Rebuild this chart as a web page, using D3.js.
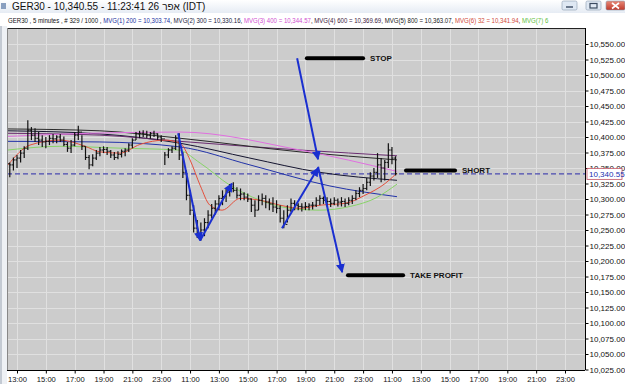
<!DOCTYPE html>
<html lang="en">
<head>
<meta charset="UTF-8">
<title>GER30 5 minutes</title>
<script src="https://cdn.jsdelivr.net/npm/d3@7"></script>
<style>
  body { margin: 0; background: #fff; }
  svg { display: block; }
</style>
</head>
<body>
<script>
// time axis labels, one every 8 slots (15 min slots)
const timeLabels = ["13:00","15:00","17:00","19:00","21:00","23:00","11:00","13:00","15:00","17:00",
                    "19:00","21:00","23:00","11:00","13:00","15:00","17:00","19:00","21:00","23:00"];
const priceTicks = [10025,10050,10075,10100,10125,10150,10175,10200,10225,10250,10275,10300,
                    10325,10350,10375,10400,10425,10450,10475,10500,10525,10550];

// bars, first bar at slot -2
const firstSlot = -2;
const firstOpen = 10357;
const barHigh = [10359,10367,10371,10379,10385,10427,10416,10414,10408,10403,10400,10403,10405,10403,10405,10401,
  10392,10395,10408,10418,10403,10385,10371,10372,10379,10384,10385,10384,10379,10376,10377,10380,10382,10390,
  10398,10408,10410,10411,10410,10408,10410,10406,10403,10376,10382,10385,10403,10406,10376,10346,10314,10290,
  10266,10262,10269,10282,10292,10298,10306,10314,10317,10324,10327,10319,10317,10311,10309,10301,10298,10306,
  10309,10306,10301,10303,10298,10290,10282,10290,10301,10298,10293,10293,10295,10293,10295,10303,10306,10304,
  10303,10301,10303,10301,10303,10301,10303,10306,10314,10319,10324,10334,10343,10350,10374,10366,10363,10390,
  10384,10369];
const barLow = [10335,10346,10350,10359,10366,10379,10395,10392,10387,10384,10382,10387,10390,10390,10392,10385,
  10376,10374,10385,10395,10379,10363,10348,10353,10363,10369,10374,10371,10366,10363,10364,10367,10369,10376,
  10382,10395,10398,10400,10398,10397,10400,10395,10392,10355,10366,10374,10379,10363,10334,10298,10274,10246,
  10237,10233,10240,10253,10269,10275,10282,10290,10295,10304,10311,10301,10298,10298,10295,10279,10271,10282,
  10290,10285,10282,10279,10277,10262,10253,10262,10279,10282,10282,10280,10282,10282,10283,10287,10290,10292,
  10288,10287,10290,10288,10288,10287,10290,10292,10298,10303,10308,10314,10321,10330,10334,10327,10330,10350,
  10356,10338];
const barClose = [10355,10363,10366,10374,10382,10411,10403,10398,10395,10392,10393,10398,10397,10400,10395,10388,
  10382,10387,10403,10408,10385,10367,10355,10366,10374,10379,10380,10377,10371,10367,10372,10377,10379,10387,
  10395,10405,10406,10405,10403,10406,10405,10400,10397,10371,10379,10382,10398,10371,10343,10306,10282,10253,
  10241,10250,10262,10274,10285,10292,10301,10304,10311,10317,10314,10306,10308,10303,10300,10290,10282,10298,
  10301,10295,10292,10287,10285,10269,10259,10282,10293,10290,10288,10287,10288,10290,10290,10298,10301,10298,
  10296,10293,10298,10295,10296,10293,10298,10301,10309,10314,10317,10327,10337,10343,10355,10350,10359,10379,
  10366,10340.55];
const lastPrice = 10340.55;

// moving averages, [slot, price]
const mvg1 = [[-2.5,10393],[23,10392],[45.2,10384],[64.6,10355],[86.8,10321],[105.4,10303.74]];
const mvg2 = [[-2.5,10410],[23,10405],[45.2,10390],[64.6,10366],[84,10343],[105.4,10330.16]];
const mvg3 = [[-2.5,10401],[20.2,10406],[45.2,10408],[78.5,10379],[105.4,10344.57]];
const mvg4 = [[-2.5,10406],[23,10403],[45.2,10393],[78.5,10379],[105.4,10369.69]];
const mvg5 = [[-2.5,10413],[23,10410],[45.2,10398],[78.5,10376],[105.4,10363.07]];
const mvg6 = [[-2.5,10355],[3.6,10387],[11.9,10395],[18.9,10385],[23,10376],[28.6,10374],[34.1,10388],[41.1,10395],
  [45.2,10390],[48,10363],[50.8,10322],[53.5,10290],[56.9,10282],[61.9,10301],[67.4,10298],[73,10290],[78.5,10285],
  [84,10290],[91,10293],[96.5,10306],[102.1,10325],[105.4,10341.94]];
const mvg7 = [[-2.5,10379],[11.9,10385],[28.6,10382],[44.7,10379],[50.8,10358],[59.1,10322],[67.4,10298],[75.7,10285],
  [84,10282],[92.4,10288],[99.3,10301],[105.4,10324]];

// trade annotations
const levelNames = ["STOP", "SHORT", "TAKE PROFIT"];
const levelPrices = [10527, 10346, 10177];
const levelFrom = [80.4, 107.9, 91.8];
const levelTo = [96, 121.5, 107.1];
const arrows = [
  [[44.7,10406],[50.8,10233]],
  [[50.8,10233],[59.6,10325]],
  [[73.5,10253],[83.5,10350]],
  [[77.7,10527],[83.5,10364]],
  [[83.5,10352],[90.2,10182]]
];

const W = 625, H = 384;
const pl = 7, pr = 585, pt = 28, pb = 370;
const font = "'Liberation Sans', Arial, sans-serif";

const x = d3.scaleLinear().domain([0, 152]).range([17, 565]);
const y = d3.scaleLinear().domain([10025, 10550]).range([369.5, 44]);

const svg = d3.select('body').append('svg')
    .attr('width', W).attr('height', H)
    .attr('font-family', font);

const defs = svg.append('defs');
const tg = defs.append('linearGradient').attr('id', 'tb').attr('x1', 0).attr('x2', 0).attr('y1', 0).attr('y2', 1);
tg.append('stop').attr('offset', 0).attr('stop-color', '#ffffff');
tg.append('stop').attr('offset', 1).attr('stop-color', '#e6ecf4');
const cg = defs.append('linearGradient').attr('id', 'cl').attr('x1', 0).attr('x2', 0).attr('y1', 0).attr('y2', 1);
cg.append('stop').attr('offset', 0).attr('stop-color', '#e88a78');
cg.append('stop').attr('offset', 1).attr('stop-color', '#c0392b');
defs.append('marker')
    .attr('id', 'ah').attr('viewBox', '0 0 10 10')
    .attr('refX', 9).attr('refY', 5)
    .attr('markerWidth', 4.5).attr('markerHeight', 4.5)
    .attr('orient', 'auto')
  .append('path').attr('d', 'M0,0L10,5L0,10Z').attr('fill', '#1a2fd0');

// window title bar
svg.append('rect').attr('width', W).attr('height', 13).attr('fill', 'url(#tb)');
svg.append('rect').attr('x', 1).attr('y', 3).attr('width', 5).attr('height', 6).attr('fill', '#8aa0c0');
const t1 = svg.append('text').attr('x', 12).attr('y', 10)
    .attr('font-size', 10).attr('fill', '#111')
    .text('GER30 - 10,340.55 - 11:23:41  26');
const w1 = t1.node().getComputedTextLength();
svg.append('text').attr('x', 12 + w1 + 3).attr('y', 10)
    .attr('font-size', 10).attr('fill', '#111')
    .text('אפר (IDT)');
const btns = [[562, 15, '#dfe8f3'], [586, 15, '#dfe8f3'], [606, 19, 'url(#cl)']];
btns.forEach(b => {
  svg.append('rect').attr('x', b[0]).attr('y', 1).attr('width', b[1]).attr('height', 9)
      .attr('rx', 1.5).attr('fill', b[2]).attr('stroke', '#8c9bb0').attr('stroke-width', 0.6);
});
svg.append('line').attr('x1', 566).attr('x2', 573).attr('y1', 7).attr('y2', 7).attr('stroke', '#3a4a60').attr('stroke-width', 1.4);
svg.append('rect').attr('x', 590).attr('y', 3.5).attr('width', 7).attr('height', 4.5).attr('fill', 'none').attr('stroke', '#3a4a60').attr('stroke-width', 1.2);
svg.append('path').attr('d', 'M612,3L619,8.5M619,3L612,8.5').attr('stroke', '#fff').attr('stroke-width', 1.6);

// info line (narrow, like the platform's bitmap font)
const info = svg.append('text').attr('transform', 'translate(8,23) scale(0.76,1)').attr('font-size', 8);
[['GER30 , 5 minutes , # 329 / 1000 , ', '#111'],
 ['MVG(1) 200 = 10,303.74', '#2030a0'], [', ', '#111'],
 ['MVG(2) 300 = 10,330.16', '#1a1a40'], [', ', '#111'],
 ['MVG(3) 400 = 10,344.57', '#d050d0'], [', ', '#111'],
 ['MVG(4) 600 = 10,369.69', '#402040'], [', ', '#111'],
 ['MVG(5) 800 = 10,363.07', '#202020'], [', ', '#111'],
 ['MVG(6) 32 = 10,341.94', '#d04a3a'], [', ', '#111'],
 ['MVG(7) 6', '#60c040']
].forEach(p => info.append('tspan').attr('fill', p[1]).text(p[0]));

// frame and plot background
svg.append('rect').attr('x', 0).attr('y', 26).attr('width', 7).attr('height', H - 26).attr('fill', '#eef1f5');
svg.append('line').attr('x1', 1).attr('x2', 1).attr('y1', 26).attr('y2', H).attr('stroke', '#9aa4b2');
svg.append('rect').attr('x', pl).attr('y', pt).attr('width', pr - pl).attr('height', pb - pt).attr('fill', '#cccccc');

const grid = svg.append('g').attr('stroke', '#e0e0e0').attr('stroke-width', 1);
grid.selectAll('.h').data(priceTicks).enter().append('line')
    .attr('x1', pl).attr('x2', pr)
    .attr('y1', d => Math.round(y(d)) + 0.5).attr('y2', d => Math.round(y(d)) + 0.5);
grid.selectAll('.v').data(timeLabels).enter().append('line')
    .attr('y1', pt).attr('y2', pb)
    .attr('x1', (d, i) => Math.round(x(i * 8)) + 0.5).attr('x2', (d, i) => Math.round(x(i * 8)) + 0.5);

// last price dashed line
svg.append('line')
    .attr('x1', pl).attr('x2', pr)
    .attr('y1', y(lastPrice)).attr('y2', y(lastPrice))
    .attr('stroke', '#4a4ab0').attr('stroke-width', 1.2).attr('stroke-dasharray', '5,3');

// moving averages
const line = d3.line().x(d => x(d[0])).y(d => y(d[1])).curve(d3.curveMonotoneX);
const mvgs = [[mvg1, '#2233a8'], [mvg2, '#151530'], [mvg4, '#6a2c70'], [mvg5, '#2a2a2a'],
              [mvg3, '#e070e0'], [mvg7, '#88d468'], [mvg6, '#e4503c']];
svg.append('g').attr('fill', 'none').attr('stroke-width', 1)
  .selectAll('path').data(mvgs).enter().append('path')
    .attr('d', d => line(d[0]))
    .attr('stroke', d => d[1]);

// OHLC bars
const bars = barHigh.map((h, i) => ({
  s: firstSlot + i, h: h, l: barLow[i], c: barClose[i],
  o: i === 0 ? firstOpen : barClose[i - 1]
}));
const bg = svg.append('g').attr('stroke', '#111').attr('stroke-width', 1.2);
const bar = bg.selectAll('g').data(bars).enter().append('g');
bar.append('line')
    .attr('x1', d => x(d.s)).attr('x2', d => x(d.s))
    .attr('y1', d => y(d.h)).attr('y2', d => y(d.l));
bar.append('line')
    .attr('x1', d => x(d.s) - 1.6).attr('x2', d => x(d.s))
    .attr('y1', d => y(d.o)).attr('y2', d => y(d.o)).attr('stroke-width', 1);
bar.append('line')
    .attr('x1', d => x(d.s)).attr('x2', d => x(d.s) + 1.6)
    .attr('y1', d => y(d.c)).attr('y2', d => y(d.c)).attr('stroke-width', 1);

// trade levels
const lv = svg.append('g');
lv.selectAll('line').data(levelNames).enter().append('line')
    .attr('x1', (d, i) => x(levelFrom[i])).attr('x2', (d, i) => x(levelTo[i]))
    .attr('y1', (d, i) => y(levelPrices[i])).attr('y2', (d, i) => y(levelPrices[i]))
    .attr('stroke', '#000').attr('stroke-width', 4).attr('stroke-linecap', 'round');
lv.selectAll('text').data(levelNames).enter().append('text')
    .attr('x', (d, i) => x(levelTo[i]) + 7)
    .attr('y', (d, i) => y(levelPrices[i]) + 3)
    .attr('font-size', 8).attr('font-weight', 'bold').attr('fill', '#111')
    .text(d => d);

// arrows
svg.append('g').attr('stroke', '#1a2fd0').attr('stroke-width', 2).attr('fill', 'none')
  .selectAll('line').data(arrows).enter().append('line')
    .attr('x1', d => x(d[0][0])).attr('y1', d => y(d[0][1]))
    .attr('x2', d => x(d[1][0])).attr('y2', d => y(d[1][1]))
    .attr('marker-end', 'url(#ah)');

// border
svg.append('line').attr('x1', pl).attr('x2', pr).attr('y1', pt + 0.5).attr('y2', pt + 0.5).attr('stroke', '#222');
svg.append('line').attr('x1', pl + 0.5).attr('x2', pl + 0.5).attr('y1', pt).attr('y2', pb).attr('stroke', '#888');

// axes
const ya = svg.append('g').attr('transform', `translate(${pr + 0.5},0)`)
    .call(d3.axisRight(y).tickValues(priceTicks).tickFormat(d3.format(',.2f')).tickSize(3).tickPadding(1));
ya.select('.domain').attr('d', `M0,${pt}V${pb}`).attr('stroke', '#000');
ya.selectAll('text').attr('font-size', 8).attr('font-family', font).attr('fill', '#111');

const xa = svg.append('g').attr('transform', `translate(0,${pb + 0.5})`)
    .call(d3.axisBottom(x).tickValues(timeLabels.map((d, i) => i * 8))
      .tickFormat((d, i) => timeLabels[i]).tickSize(3).tickPadding(3));
xa.select('.domain').attr('d', `M${pl},0H${pr}`).attr('stroke', '#000');
xa.selectAll('text').attr('font-size', 7.6).attr('font-family', font).attr('fill', '#111');

// last price tag
const tag = svg.append('g').attr('transform', `translate(587,${y(lastPrice)})`);
tag.append('rect').attr('x', 0).attr('y', -5.5).attr('width', 35).attr('height', 11)
    .attr('fill', '#fff').attr('stroke', '#c05060').attr('stroke-width', 0.8);
tag.append('text').attr('x', 2).attr('y', 3).attr('font-size', 8).attr('fill', '#2030b0')
    .text(d3.format(',.2f')(lastPrice));
</script>
</body>
</html>
